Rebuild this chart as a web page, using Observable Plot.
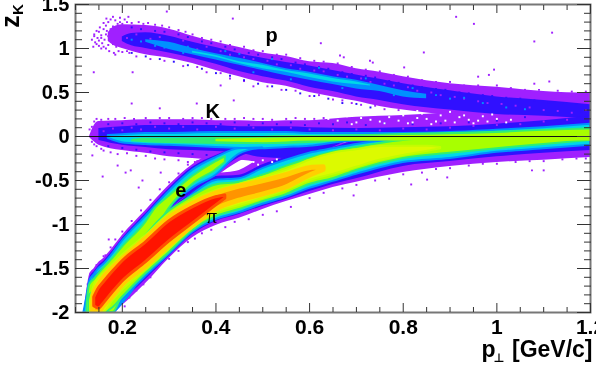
<!DOCTYPE html>
<html><head><meta charset="utf-8">
<style>html,body{margin:0;padding:0;background:#fff;overflow:hidden}svg{display:block;filter:blur(.4px)}</style>
<script src="https://cdn.jsdelivr.net/npm/d3@7"></script>
<script src="https://cdn.jsdelivr.net/npm/@observablehq/plot@0.6"></script>
</head><body><script>
const purple="#a020ff", blue="#3010ff", azure="#0090ff", cyan="#00d8e8", green="#30f070", lime="#a8ff00", yellow="#dcfa00", amber="#ffd000", orange="#ff9400", scarlet="#ff5000", red="#ff1400";

const pionX=[.13,.14,.15,.16,.18,.2,.25,.3,.35,.4,.45,.5,.55,.6,.65,.7,.8,.9,1,1.1,1.2];
const pionPurpleHi=[-1.75,-1.6,-1.55,-1.5,-1.4,-1.3,-1.1,-.82,-.61,-.43,-.385,-.25,-.215,-.16,-.1,-.05,-.02,-.02,-.02,-.02,-.02];
const pionPurpleLo=[-2,-2,-2,-2,-2,-1.92,-1.67,-1.385,-1.15,-1.01,-.93,-.83,-.74,-.66,-.58,-.52,-.41,-.34,-.295,-.27,-.24];
const pionBlueHi=[-1.75,-1.6,-1.55,-1.5,-1.4,-1.3,-1.1,-.84,-.635,-.455,-.44,-.32,-.24,-.17,-.125,-.05,-.03,-.03,-.03,-.03,-.03];
const pionBlueLo=[-2,-2,-2,-2,-2,-1.885,-1.625,-1.365,-1.115,-.965,-.885,-.795,-.715,-.625,-.545,-.48,-.34,-.285,-.23,-.19,-.16];
const pionCyanHi=[-1.75,-1.6,-1.55,-1.5,-1.4,-1.3,-1.1,-.885,-.66,-.5,-.48,-.365,-.27,-.19,-.14,-.09,-.03,-.02,-.02,-.02,-.02];
const pionCyanLo=[-2,-2,-2,-2,-1.98,-1.865,-1.59,-1.34,-1.09,-.945,-.865,-.77,-.69,-.59,-.51,-.43,-.295,-.25,-.18,-.14,-.1];
const pionLimeHi=[-1.805,-1.75,-1.69,-1.635,-1.535,-1.43,-1.125,-.85,-.68,-.55,-.52,-.44,-.34,-.25,-.18,-.125,-.045,-.02,-.01,-.01,-.01];
const pionLimeLo=[-2,-2,-2,-2,-1.945,-1.83,-1.56,-1.32,-1.07,-.91,-.83,-.74,-.66,-.545,-.48,-.385,-.25,-.19,-.14,-.09,-.045];
const yellowX=[.132,.14,.15,.16,.18,.2,.25,.3,.35,.4,.45,.5,.55,.6,.65,.7,.75,.8,.85,.88];
const yellowHi=[-1.865,-1.69,-1.61,-1.56,-1.455,-1.35,-1.125,-.885,-.73,-.615,-.545,-.465,-.385,-.27,-.19,-.15,-.115,-.11,-.11,-.125];
const yellowLo=[-2,-2,-2,-2,-1.865,-1.75,-1.52,-1.285,-1.045,-.865,-.785,-.705,-.61,-.5,-.43,-.35,-.27,-.215,-.17,-.14];
const orangeX=[.138,.14,.15,.16,.18,.2,.25,.3,.35,.4,.45,.5,.55,.6,.63];
const orangeHi=[-1.93,-1.795,-1.69,-1.61,-1.5,-1.4,-1.17,-.93,-.77,-.65,-.57,-.51,-.44,-.36,-.35];
const orangeLo=[-2,-2,-2,-1.93,-1.82,-1.69,-1.48,-1.24,-1.02,-.83,-.73,-.66,-.58,-.445,-.38];
const redX=[.14,.15,.16,.18,.2,.25,.3,.35,.4,.42];
const redHi=[-1.83,-1.725,-1.66,-1.535,-1.42,-1.205,-.965,-.805,-.69,-.67];
const redLo=[-1.93,-1.955,-1.9,-1.77,-1.65,-1.43,-1.195,-.99,-.785,-.705];

const elecX=[.118,.125,.13,.14,.15,.16,.18,.2,.25,.3,.35,.4,.45,.5];
const elecPurpleHi=[-2,-1.715,-1.57,-1.5,-1.43,-1.385,-1.26,-1.125,-.84,-.555,-.32,-.18,-.1,-.08];
const elecPurpleLo=[-2,-2,-2,-2,-2,-2,-2,-1.9,-1.5,-.885,-.69,-.465,-.285,-.18];
const elecBlueHi=[-2,-1.77,-1.61,-1.535,-1.465,-1.42,-1.295,-1.16,-.875,-.59,-.35,-.215,-.125,-.09];
const elecBlueLo=[-2,-2,-2,-2,-2,-2,-2,-1.9,-1.5,-.865,-.635,-.43,-.24,-.15];
const elecCyanHi=[-2,-1.805,-1.65,-1.57,-1.5,-1.455,-1.33,-1.19,-.91,-.625,-.385,-.24,-.14,-.13];
const elecCyanLo=[-2,-2,-2,-2,-2,-2,-2,-1.9,-1.5,-.84,-.59,-.44,-.2,-.13];
const elecLimeX=[.125,.13,.14,.15,.16,.18,.2,.25,.27,.3,.35,.4,.42];
const elecLimeHi=[-1.9,-1.69,-1.625,-1.56,-1.5,-1.385,-1.26,-.975,-.82,-.68,-.455,-.285,-.23];
const elecLimeLo=[-2,-2,-2,-2,-2,-2,-1.8,-1.3,-1.09,-.82,-.545,-.38,-.295];

const kaonX=[.13,.14,.15,.2,.25,.3,.35,.4,.45,.5,.55,.6,.65,.7,.8,.9,1,1.1,1.2];
const kaonPurpleHi=[0,.125,.17,.18,.19,.19,.19,.18,.18,.17,.18,.18,.2,.22,.24,.27,.32,.41,.47];
const kaonPurpleLo=[-.01,-.06,-.1,-.16,-.19,-.23,-.25,-.27,-.27,-.295,-.27,-.16,-.05,-.05,-.05,-.05,-.05,-.05,-.05];
const kaonBlueX=[.15,.2,.25,.3,.35,.4,.45,.5,.55,.6,.7,.8,.9,1,1.1,1.2];
const kaonBlueHi=[.09,.11,.125,.125,.125,.125,.11,.11,.11,.1,.09,.1,.11,.14,.18,.23];
const kaonBlueLo=[-.045,-.1,-.125,-.15,-.16,-.17,-.19,-.24,-.25,-.215,-.05,-.05,-.05,-.05,-.05,-.05];
const kaonCyanX=[.17,.2,.25,.3,.4,.5,.55,.6,.7,.8,.9,1,1.1,1.2];
const kaonCyanHi=[.01,.02,.035,.035,.045,.045,.045,.035,.035,.035,.045,.07,.1,.14];
const kaonCyanLo=[-.02,-.07,-.09,-.1,-.125,-.14,-.125,-.11,-.05,-.05,-.05,-.05,-.05,-.05];
const kaonGreenX=[.22,.25,.3,.4,.5,.55,.6,.7,.8,.9,1,1.1,1.2];
const kaonGreenHi=[-.035,-.02,-.02,-.01,0,.01,.01,.02,.035,.045,.06,.08,.1];
const kaonGreenLo=[-.06,-.07,-.08,-.09,-.09,-.09,-.08,-.05,-.05,-.05,-.05,-.05,-.05];
const kaonLimeX=[.4,.5,.6,.7,.8,.9,1,1.1,1.2];
const kaonLimeHi=[-.03,-.02,-.01,0,.01,.02,.035,.06,.075];
const kaonLimeLo=[-.06,-.07,-.05,-.05,-.05,-.05,-.05,-.05,-.05];

const protonX=[.17,.18,.2,.25,.3,.35,.4,.45,.5,.55,.6,.65,.7,.75,.8,.9,1,1.1,1.2];
const protonPurpleHi=[1.18,1.24,1.27,1.26,1.22,1.14,1.07,1.01,.95,.91,.85,.83,.77,.73,.68,.6,.56,.51,.49];
const protonPurpleLo=[1.08,1.04,1.0,.93,.89,.83,.75,.68,.61,.57,.5,.45,.4,.34,.3,.24,.2,.2,.2];
const protonBlueX=[.2,.22,.25,.3,.35,.4,.45,.5,.55,.6,.65,.7,.75,.8,.9,1,1.1,1.2];
const protonBlueHi=[1.13,1.17,1.18,1.14,1.07,1.01,.94,.89,.84,.8,.75,.7,.65,.6,.52,.45,.41,.36];
const protonBlueLo=[1.08,1.03,1,.95,.89,.82,.74,.68,.63,.56,.51,.45,.41,.36,.3,.25,.23,.2];
const protonAzureX=[.25,.3,.35,.4,.45,.5,.55,.6,.65,.7,.75,.8,.85];
const protonAzureHi=[1.1,1.07,1,.94,.89,.83,.77,.73,.68,.64,.58,.52,.48];
const protonAzureLo=[1.07,.99,.93,.87,.81,.75,.69,.64,.59,.54,.51,.45,.43];
const protonCyanX=[.35,.4,.45,.5,.55,.6,.65,.7,.73];
const protonCyanHi=[.97,.92,.85,.81,.75,.71,.66,.62,.585];
const protonCyanLo=[.95,.9,.83,.77,.73,.67,.62,.59,.575];

const strayPts=[[.213,1.36],[.166,1.34],[.295,1.42],[.436,1.34],[.139,.73],[.222,.73],[.624,1.06],[.438,.41],[.359,.375],[.28,.32],[.22,.375],[.41,.58],[.19,-.33],[.136,-.215],[.158,-.455],[.207,-.41],[.218,-.385],[.235,-.58],[.243,-.5],[.282,-.41],[.171,-1.17],[.164,-1.35],[.913,1.36],[.951,1.28],[1.118,1.18],[1.08,1.08],[.844,.955],[.665,.92],[.673,.9],[.729,.86],[.735,.84],[.802,.785],[.994,.76],[.983,.7],[.96,.68],[1.08,.6],[1.112,.625],[.694,-.67],[.817,-.545],[.851,-.49],[1.075,-.385],[1.1,-.385],[.894,-.465]];
const protonLeftPts=[[.135,1.1],[.138,1.02],[.14,1.16],[.142,1.07],[.145,1.2],[.147,1.12],[.15,1.03],[.152,1.24],[.155,1.15],[.157,1.06],[.16,1.29],[.162,1.1],[.165,1],[.167,1.2],[.17,1.3],[.172,.97],[.175,1.33],[.177,1.08],[.18,1.25],[.182,.95],[.185,1.32],[.187,1.02],[.19,1.22],[.192,.97],[.195,1.35],[.14,1.14],[.145,1.05],[.15,1.19],[.155,1],[.16,1.22],[.165,1.26],[.17,1.04],[.175,1.15],[.18,1.36],[.185,.93],[.19,1.28],[.15,1.09],[.16,1.02],[.17,1.14],[.18,1.05],[.155,1.12],[.165,1.16],[.175,1.22],[.185,1.1],[.195,1.3],[.2,1.28],[.205,1.33],[.21,1.3],[.215,.95],[.2,.96],[.21,.97]];
const edgePts=[[.22,1.29],[.235,1.3],[.245,1.28],[.255,1.29],[.27,1.27],[.285,1.26],[.3,1.24],[.32,1.21],[.335,1.19],[.35,1.16],[.37,1.12],[.39,1.1],[.41,1.08],[.43,1.04],[.46,1.02],[.48,.98],[.5,.97],[.53,.93],[.55,.93],[.58,.89],[.61,.86],[.63,.85],[.66,.83],[.69,.79],[.72,.76],[.75,.74],[.78,.7],[.81,.68],[.84,.64],[.87,.62],[.9,.62],[.93,.58],[.96,.58],[1,.58],[1.03,.55],[1.06,.53],[1.09,.53],[1.13,.52],[1.16,.51],[1.19,.51],
 [.23,.91],[.26,.88],[.29,.86],[.33,.8],[.36,.79],[.38,.73],[.41,.72],[.43,.66],[.46,.63],[.48,.57],[.51,.57],[.54,.53],[.57,.52],[.6,.46],[.62,.47],[.65,.42],[.67,.41],[.69,.38],[.71,.36],[.74,.35],[.76,.31],[.79,.3],
 [.13,.08],[.135,.11],[.14,.17],[.145,.2],[.155,.19],[.17,.2],[.185,.2],[.205,.21],[.225,.2],[.25,.21],[.28,.21],[.3,.21],[.33,.2],[.35,.21],[.37,.21],[.39,.2],[.42,.2],[.44,.2],[.46,.21],[.48,.2],[.5,.2],[.52,.19],[.55,.2],[.57,.21],[.59,.2],[.61,.2],[.63,.21],
 [.135,-.06],[.14,-.09],[.145,-.11],[.155,-.14],[.16,-.16],[.175,-.18],[.19,-.2],[.21,-.19],[.23,-.22],[.25,-.22],[.27,-.25],[.29,-.26],[.32,-.27],[.34,-.29],[.36,-.28],[.38,-.3],
 [.126,-1.68],[.132,-1.56],[.145,-1.46],[.16,-1.36],[.175,-1.26],[.185,-1.17],[.2,-1.08],[.22,-.96],[.24,-.84],[.26,-.72],[.28,-.6],[.3,-.52],[.32,-.42],[.34,-.32],[.355,-.29],[.37,-.22],
 [.185,-1.98],[.205,-1.93],[.215,-1.83],[.23,-1.75],[.245,-1.68],[.26,-1.6],[.28,-1.46],[.3,-1.39],[.32,-1.3],[.34,-1.2],[.355,-1.16],[.37,-1.1],[.39,-1.06],[.42,-1.03],[.44,-.97],[.47,-.94],[.5,-.89],[.53,-.85],[.56,-.8],[.6,-.7],[.63,-.64],[.67,-.59],[.7,-.55],[.74,-.5],[.77,-.48],[.8,-.43],[.84,-.41],[.87,-.37],[.9,-.36],[.94,-.33],[.97,-.31],[1,-.31],[1.04,-.29],[1.07,-.28],[1.1,-.28],[1.14,-.26],[1.17,-.25],[1.19,-.25]];
const bluePts=[[.22,1.24],[.24,1.22],[.27,1.2],[.29,1.19],[.32,1.16],[.34,1.13],[.37,1.08],[.39,1.06],[.42,1.02],[.44,.99],[.47,.95],[.49,.93],[.52,.9],[.54,.88],[.57,.84],[.59,.82],[.62,.79],[.64,.77],[.67,.73],[.69,.71],[.72,.69],[.74,.67],[.77,.63],[.79,.61],[.82,.58],[.84,.56],[.87,.54],[.89,.53],[.92,.5],[.94,.49],[.97,.47],[.99,.46],[1.02,.44],[1.05,.43],[1.08,.41],[1.11,.39],[1.14,.38],[1.17,.37],
 [.22,.95],[.25,.91],[.28,.88],[.31,.85],[.34,.81],[.37,.77],[.4,.72],[.43,.69],[.46,.64],[.49,.6],[.52,.57],[.55,.53],[.58,.49],[.61,.46],[.64,.43],[.67,.38],[.7,.37],[.73,.33],
 [.17,.14],[.2,.15],[.23,.14],[.26,.16],[.29,.15],[.32,.14],[.35,.16],[.38,.15],[.41,.14],[.44,.16],[.47,.13],[.5,.15],[.53,.14],[.56,.16],[.59,.13],[.62,.15],[.65,.14],[.68,.16],[.72,.13],[.76,.15],[.82,.14],[.88,.15],[.94,.16],[1,.18],[1.06,.22],[1.12,.25],[1.18,.28],
 [.17,-.11],[.2,-.13],[.23,-.15],[.26,-.17],[.29,-.18],[.32,-.19],[.35,-.2],[.38,-.21]];
const blotchPts=[[.21,1.12],[.23,1.16],[.26,1.11],[.28,1.13],[.3,1.06],[.33,1.09],[.36,.99],[.38,1.02],[.41,.97],[.43,.93],[.46,.9],[.48,.88],[.51,.86],[.53,.82],[.56,.81],[.58,.77],[.61,.75],[.63,.74],[.66,.7],[.68,.68],[.71,.66],[.73,.62],[.76,.6],[.78,.58],[.81,.56],[.83,.52],[.86,.5],[.88,.47],[.91,.45],[.93,.43],[.96,.4],[.98,.38],[1.01,.37],[1.04,.35],[1.07,.33],[1.1,.3],[1.13,.29],[1.16,.27],[1.19,.3],
 [.16,.06],[.18,.09],[.2,.07],[.22,.1],[.24,.08],[.27,.11],[.3,.09],[.33,.11],[.36,.08],[.4,.11],[.44,.09],[.48,.1],[.52,.08],[.56,.1],[.6,.08],[.65,.07],[.7,.08],[.75,.07],[.8,.09],[.85,.08],[.9,.1],[.95,.12],[1,.13],[1.05,.14],[1.1,.17],[1.15,.19]];
const azurePts=[[.22,1.1],[.24,1.08],[.27,1.03],[.29,1.01],[.33,.95],[.34,1.02],[.42,.97],[.45,.94],[.48,.73],[.52,.88],[.56,.65],[.62,.78],[.67,.55],[.72,.66],[.78,.47],[.82,.55],[.87,.47],[.9,.43],[.93,.44],[.97,.38],[1.02,.33],[1.06,.31]];
const holePts=[[.64,.2],[.66,.18],[.68,.23],[.7,.16],[.71,.21],[.73,.19],[.74,.25],[.76,.15],[.77,.22],[.79,.18],[.8,.24],[.82,.16],[.83,.21],[.85,.2],[.86,.14],[.88,.24],[.89,.18],[.91,.16],[.92,.22],[.94,.19],[.95,.15],[.97,.23],[.98,.17],[1,.2],[1.02,.16],[.67,.28],[.72,.27],[.75,.17],[.78,.29],[.81,.15],[.84,.26],[.87,.17],[.9,.28],[.93,.24],[.96,.18],[.99,.25],[1.03,.19],[.69,.14],[.75,.3],[.83,.29],[.46,-.33],[.48,-.29],[.49,-.32],[.5,-.27],[.52,-.29],[.53,-.26],[.55,-.27]];
const bandNames=["p","K","e","π"];
const bandLabelX=[.519,.393,.325,.391];
const bandLabelZ=[1.15,.28,-.61,-.91];
const xMajor=[.2,.4,.6,.8,1,1.2];
const xMinor=[.1,.15,.25,.3,.35,.45,.5,.55,.65,.7,.75,.85,.9,.95,1.05,1.1,1.15];
const yMajor=[-2,-1.5,-1,-.5,0,.5,1,1.5];
const yMinor=[-1.9,-1.8,-1.7,-1.6,-1.4,-1.3,-1.2,-1.1,-.9,-.8,-.7,-.6,-.4,-.3,-.2,-.1,.1,.2,.3,.4,.6,.7,.8,.9,1.1,1.2,1.3,1.4];

const font='"Liberation Sans",Arial,sans-serif';
const band=(x,hi,lo,fill,stroke=fill,sw=0)=>Plot.areaY(x.map((v,i)=>({x:v,hi:hi[i],lo:lo[i]})),{x:"x",y1:"lo",y2:"hi",fill,stroke,strokeWidth:sw,curve:"monotone-x",clip:true});
const specks=(pts,fill)=>Plot.dot(pts,{x:d=>d[0],y:d=>d[1],r:1.1,symbol:"square",fill,clip:true});
const bold={fontWeight:"bold",fontFamily:font,fill:"#000"};

document.body.append(Plot.plot({
  width:596,height:367,marginLeft:75,marginRight:6,marginTop:4,marginBottom:55,
  x:{domain:[.1,1.2],axis:null},y:{domain:[-2,1.5],axis:null},
  marks:[
    specks(strayPts,purple),specks(protonLeftPts,purple),specks(edgePts,purple),
    band(protonX,protonPurpleHi,protonPurpleLo,purple),
    band(kaonX,kaonPurpleHi,kaonPurpleLo,purple),
    band(elecX,elecPurpleHi,elecPurpleLo,purple),
    band(pionX,pionPurpleHi,pionPurpleLo,purple),
    band(protonBlueX,protonBlueHi,protonBlueLo,blue),
    band(kaonBlueX,kaonBlueHi,kaonBlueLo,blue),
    band(elecX,elecBlueHi,elecBlueLo,blue),
    band(pionX,pionBlueHi,pionBlueLo,blue),
    specks(bluePts,blue),specks(blotchPts,purple),specks(holePts,"#fff"),
    band(protonAzureX,protonAzureHi,protonAzureLo,azure),
    specks(azurePts,azure),
    band(protonCyanX,protonCyanHi,protonCyanLo,cyan),
    band(kaonCyanX,kaonCyanHi,kaonCyanLo,cyan,azure,2),
    band(elecX,elecCyanHi,elecCyanLo,cyan,azure,2),
    band(pionX,pionCyanHi,pionCyanLo,cyan,azure,2),
    band(kaonGreenX,kaonGreenHi,kaonGreenLo,green),
    band(elecLimeX,elecLimeHi,elecLimeLo,lime,green,2),
    band(pionX,pionLimeHi,pionLimeLo,lime,green,2),
    band(kaonLimeX,kaonLimeHi,kaonLimeLo,lime),
    band(yellowX,yellowHi,yellowLo,yellow,"#c4fc00",2),
    band(orangeX,orangeHi,orangeLo,orange,amber,5),
    band(redX,redHi,redLo,red,scarlet,3),
    Plot.ruleY([0],{stroke:"#111",strokeWidth:1}),
    Plot.frame({stroke:"#777",strokeWidth:2}),
    Plot.axisX({anchor:"bottom",ticks:xMajor,tickSize:-9,tickPadding:16,stroke:"#333",fontSize:21,...bold,tickFormat:d=>String(d),label:null}),
    Plot.axisX({anchor:"bottom",ticks:xMinor,tickSize:-5,stroke:"#333",text:null,label:null}),
    Plot.axisX({anchor:"top",ticks:xMajor,tickSize:-8,stroke:"#333",text:null,label:null}),
    Plot.axisX({anchor:"top",ticks:xMinor,tickSize:-5,stroke:"#333",text:null,label:null}),
    Plot.axisY({anchor:"left",ticks:yMajor,tickSize:-14,tickPadding:20,stroke:"#333",fontSize:20,...bold,tickFormat:d=>String(d),label:null}),
    Plot.axisY({anchor:"left",ticks:yMinor,tickSize:-7,stroke:"#333",text:null,label:null}),
    Plot.axisY({anchor:"right",ticks:yMajor,tickSize:-14,stroke:"#333",text:null,label:null}),
    Plot.axisY({anchor:"right",ticks:yMinor,tickSize:-7,stroke:"#333",text:null,label:null}),
    Plot.text(bandNames.slice(0,3),{x:(d,i)=>bandLabelX[i],y:(d,i)=>bandLabelZ[i],text:d=>d,fontSize:20,...bold}),
    Plot.text([bandNames[3]],{x:[bandLabelX[3]],y:[bandLabelZ[3]],text:d=>d,fontSize:21,fontFamily:'"Liberation Serif",serif',fill:"#000"}),
    Plot.text(["[GeV/c]"],{frameAnchor:"bottom-right",dx:2,dy:37,textAnchor:"end",lineAnchor:"middle",text:d=>d,fontSize:23,...bold}),
    Plot.text(["p"],{frameAnchor:"bottom-right",dx:-95,dy:37,textAnchor:"end",lineAnchor:"middle",text:d=>d,fontSize:23,...bold}),
    Plot.text(["⊥"],{frameAnchor:"bottom-right",dx:-86,dy:46,textAnchor:"end",lineAnchor:"middle",text:d=>d,fontSize:12,fontWeight:"bold",fontFamily:'"DejaVu Sans",sans-serif',fill:"#000"}),
    Plot.text(["z"],{frameAnchor:"top-left",dx:-65,dy:17,rotate:-90,textAnchor:"middle",lineAnchor:"middle",text:d=>d,fontSize:25,...bold}),
    Plot.text(["K"],{frameAnchor:"top-left",dx:-57,dy:5,rotate:-90,textAnchor:"middle",lineAnchor:"middle",text:d=>d,fontSize:15,...bold})
  ]
}));
</script></body></html>
